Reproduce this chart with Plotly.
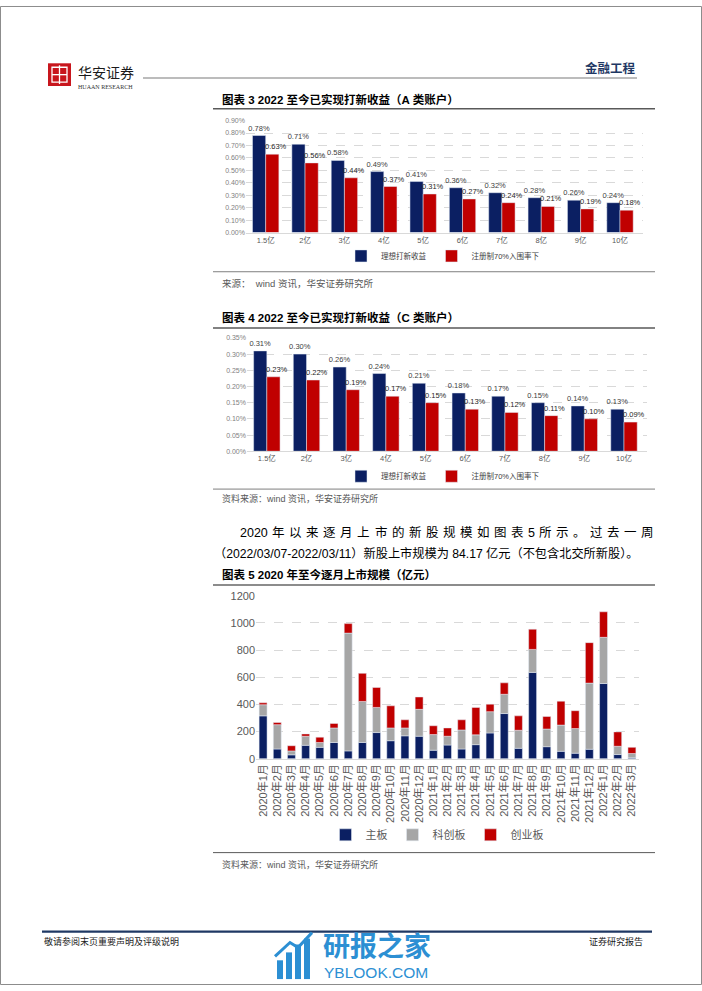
import plotly.graph_objects as go
import numpy as np

# ---------------- data ----------------
cats_ab = ["1.5亿", "2亿", "3亿", "4亿", "5亿", "6亿", "7亿", "8亿", "9亿", "10亿"]
a_ideal = [0.0078, 0.0071, 0.0058, 0.0049, 0.0041, 0.0036, 0.0032, 0.0028, 0.0026, 0.0024]
a_reg = [0.0063, 0.0056, 0.0044, 0.0037, 0.0031, 0.0027, 0.0024, 0.0021, 0.0019, 0.0018]
c_ideal = [0.0031, 0.0030, 0.0026, 0.0024, 0.0021, 0.0018, 0.0017, 0.0015, 0.0014, 0.0013]
c_reg = [0.0023, 0.0022, 0.0019, 0.0017, 0.0015, 0.0013, 0.0012, 0.0011, 0.0010, 0.0009]

months = ["2020年1月", "2020年2月", "2020年3月", "2020年4月", "2020年5月", "2020年6月",
          "2020年7月", "2020年8月", "2020年9月", "2020年10月", "2020年11月", "2020年12月",
          "2021年1月", "2021年2月", "2021年3月", "2021年4月", "2021年5月", "2021年6月",
          "2021年7月", "2021年8月", "2021年9月", "2021年10月", "2021年11月", "2021年12月",
          "2022年1月", "2022年2月", "2022年3月"]
main_board = [316, 72, 29, 99, 84, 120, 58, 120, 193, 133, 169, 166,
              63, 101, 72, 104, 190, 333, 77, 636, 89, 55, 41, 70, 554, 31, 7]
star_board = [82, 179, 29, 67, 36, 107, 867, 302, 185, 94, 58, 198,
              115, 65, 140, 72, 157, 142, 133, 169, 130, 193, 181, 487, 340, 61, 32]
gem_board = [14, 16, 38, 17, 39, 33, 70, 207, 147, 163, 60, 91,
             65, 61, 75, 202, 55, 84, 106, 149, 92, 176, 132, 298, 188, 106, 45]

# ---------------- styling ----------------
W, H = 702, 991
NAVY = "#0B1F62"
RED = "#C00000"
GREY = "#A6A6A6"
CJK = "Liberation Sans, Noto Sans CJK SC"


def px(x):
    return x / W


def py(y):
    return 1 - y / H


fig = go.Figure()

label_font = dict(size=7.5, color="#404040", family=CJK)

# Chart 3 (A accounts)
fig.add_trace(go.Bar(x=cats_ab, y=a_ideal, name="理想打新收益", marker_color=NAVY,
                     width=0.335, offset=-0.335, xaxis="x", yaxis="y",
                     texttemplate="%{y:.2%}", textposition="outside", constraintext="none",
                     textfont=label_font, cliponaxis=False, legend="legend"))
fig.add_trace(go.Bar(x=cats_ab, y=a_reg, name="注册制70%入围率下", marker_color=RED,
                     width=0.335, offset=0, xaxis="x", yaxis="y", cliponaxis=False,
                     legend="legend"))
# Chart 4 (C accounts)
fig.add_trace(go.Bar(x=cats_ab, y=c_ideal, name="理想打新收益", marker_color=NAVY,
                     width=0.333, offset=-0.333, xaxis="x2", yaxis="y2",
                     texttemplate="%{y:.2%}", textposition="outside", constraintext="none",
                     textfont=label_font, cliponaxis=False, legend="legend2"))
fig.add_trace(go.Bar(x=cats_ab, y=c_reg, name="注册制70%入围率下", marker_color=RED,
                     width=0.333, offset=0, xaxis="x2", yaxis="y2", cliponaxis=False,
                     legend="legend2"))
# Chart 5 (stacked monthly IPO size)
mb = np.array(main_board)
sb = np.array(star_board)
gb = np.array(gem_board)
fig.add_trace(go.Bar(x=months, y=mb, base=0, name="主板", marker_color=NAVY, width=0.56,
                     xaxis="x3", yaxis="y3", legend="legend3"))
fig.add_trace(go.Bar(x=months, y=sb, base=mb, name="科创板", marker_color=GREY, width=0.56,
                     xaxis="x3", yaxis="y3", legend="legend3"))
fig.add_trace(go.Bar(x=months, y=gb, base=mb + sb, name="创业板", marker_color=RED, width=0.56,
                     xaxis="x3", yaxis="y3", legend="legend3"))

grid = dict(showgrid=True, gridcolor="#D9D9D9", griddash="dash", gridwidth=1, zeroline=False)
small_tick = dict(size=7, color="#7F7F7F", family=CJK)

layout = dict(
    width=W, height=H, margin=dict(l=0, r=0, t=0, b=0),
    paper_bgcolor="white", plot_bgcolor="white",
    barmode="overlay", showlegend=True,
    font=dict(family=CJK),
    xaxis=dict(domain=[px(246), px(643)], anchor="y", showgrid=False, showline=True,
               linecolor="#D9D9D9", ticks="", tickfont=dict(size=7.5, color="#595959", family=CJK)),
    yaxis=dict(domain=[py(229.3), py(116)], anchor="x", range=[0, 0.009], dtick=0.001,
               tickformat=".2%", tickfont=small_tick, **grid),
    xaxis2=dict(domain=[px(247), px(647)], anchor="y2", showgrid=False, showline=True,
                linecolor="#D9D9D9", ticks="", tickfont=dict(size=7.5, color="#595959", family=CJK)),
    yaxis2=dict(domain=[py(450.7), py(336)], anchor="x2", range=[0, 0.0035], dtick=0.0005,
                tickformat=".2%", tickfont=small_tick, **grid),
    xaxis3=dict(domain=[px(256), px(639)], anchor="y3", showgrid=False, showline=True,
                linecolor="#D9D9D9", ticks="", tickangle=-90,
                tickfont=dict(size=11, color="#595959", family=CJK)),
    yaxis3=dict(domain=[py(762), py(597)], anchor="x3", range=[0, 1200], dtick=200,
                tickfont=dict(size=11, color="#595959", family=CJK), **grid),
    legend=dict(orientation="h", x=px(443), y=py(253), xanchor="center", yanchor="middle",
                font=dict(size=7.5, color="#404040", family=CJK), itemwidth=30,
                bgcolor="rgba(0,0,0,0)"),
    legend2=dict(orientation="h", x=px(443), y=py(476), xanchor="center", yanchor="middle",
                 font=dict(size=7.5, color="#404040", family=CJK), itemwidth=30,
                 bgcolor="rgba(0,0,0,0)"),
    legend3=dict(orientation="h", x=px(437), y=py(839), xanchor="center", yanchor="middle",
                 font=dict(size=11, color="#595959", family=CJK), itemwidth=30,
                 bgcolor="rgba(0,0,0,0)"),
)
fig.update_layout(**layout)

shapes = []
annotations = []

# value labels for the red bars, nudged right so they sit above the red bar
for xa, ya, vals in [("x", "y", a_reg), ("x2", "y2", c_reg)]:
    for c, v in zip(cats_ab, vals):
        annotations.append(dict(x=c, y=v, xref=xa, yref=ya, text=f"{v:.2%}", showarrow=False,
                                xanchor="center", yanchor="bottom", xshift=10, yshift=1,
                                font=dict(size=7.5, color="#262626", family=CJK)))


def hline(x0, x1, y, color, width):
    shapes.append(dict(type="line", xref="paper", yref="paper", x0=px(x0), x1=px(x1),
                       y0=py(y), y1=py(y), line=dict(color=color, width=width)))


def text(x, y, s, size, color="#000000", anchor="left", bold=False, family=CJK):
    if bold:
        s = "<b>" + s + "</b>"
    annotations.append(dict(x=px(x), y=py(y), xref="paper", yref="paper", text=s,
                            showarrow=False, xanchor=anchor, yanchor="middle",
                            font=dict(size=size, color=color, family=family)))


# page border
shapes.append(dict(type="rect", xref="paper", yref="paper", x0=px(0.5), x1=px(701.5),
                   y0=py(990.5), y1=py(0.5), line=dict(color="#8C8C8C", width=1)))

# header
shapes.append(dict(type="rect", xref="paper", yref="paper", x0=px(48), x1=px(71),
                   y0=py(81), y1=py(58), fillcolor="#C8161D", line=dict(width=0)))
shapes.append(dict(type="rect", xref="paper", yref="paper", x0=px(52), x1=px(67),
                   y0=py(77), y1=py(62), line=dict(color="white", width=1.3)))
shapes.append(dict(type="line", xref="paper", yref="paper", x0=px(59.5), x1=px(59.5),
                   y0=py(79), y1=py(60), line=dict(color="white", width=1.3)))
hline(52, 67, 69.5, "white", 1.3)
text(76, 68, "华安证券", 14, "#1A1A1A")
text(76, 82, "HUAAN RESEARCH", 6, "#333333", family="Liberation Serif")
hline(143, 637, 73, "#A6A6A6", 1.5)
text(638, 63, "金融工程", 12.5, "#1F3864", anchor="right", bold=True)

# chart 3 title / source
text(220, 95, "图表 3 2022 至今已实现打新收益（A 类账户）", 11.5, "#000000", bold=True)
hline(213, 655, 104, "#595959", 1.5)
hline(213, 655, 269, "#7F7F7F", 1)
text(220, 281, "来源：  wind 资讯，华安证券研究所", 9.5, "#595959")

# chart 4 title / source
text(220, 315, "图表 4 2022 至今已实现打新收益（C 类账户）", 11.5, "#000000", bold=True)
hline(213, 655, 326, "#595959", 1.5)
hline(213, 655, 489, "#7F7F7F", 1)
text(220, 499, "资料来源：wind 资讯，华安证券研究所", 9, "#595959")

# paragraph (justified first line)
tokens = ["2020", "年", "以", "来", "逐", "月", "上", "市", "的", "新", "股", "规", "模",
          "如", "图", "表", "5", "所", "示", "。", "过", "去", "一", "周"]
fs = 12.5
widths = [len(t) * 0.556 * fs if t.isdigit() else fs for t in tokens]
x_start, x_end = 238, 652
gap = (x_end - x_start - sum(widths)) / (len(tokens) - 1)
xc = x_start
for t, w in zip(tokens, widths):
    text(xc, 533, t, fs, "#000000")
    xc += w + gap
text(212, 554, "（2022/03/07-2022/03/11）新股上市规模为 84.17 亿元（不包含北交所新股）。", 12.2, "#000000")

# chart 5 title / source
text(220, 575, "图表 5 2020 年至今逐月上市规模（亿元）", 11.5, "#000000", bold=True)
hline(213, 655, 586, "#8C8C8C", 2)
hline(213, 655, 857, "#595959", 1)
text(220, 869, "资料来源：wind 资讯，华安证券研究所", 9, "#595959")

# footer
hline(42, 652, 937, "#1F3864", 2.2)
text(42, 947, "敬请参阅末页重要声明及评级说明", 9, "#1A1A1A")
text(645, 947, "证券研究报告", 9, "#1A1A1A", anchor="right")

# watermark
WM = "#2C8FD3"
for x0, ytop in [(277, 966), (286, 958), (295, 950), (304, 944)]:
    shapes.append(dict(type="rect", xref="paper", yref="paper", x0=px(x0), x1=px(x0 + 6),
                       y0=py(985), y1=py(ytop), fillcolor=WM, line=dict(width=0)))
shapes.append(dict(type="path", xref="paper", yref="paper",
                   path=f"M {px(275)},{py(962)} L {px(290)},{py(948)} L {px(298)},{py(953)} L {px(312)},{py(938)}",
                   line=dict(color=WM, width=3)))
text(321, 953, "研报之家", 27, WM, bold=True)
text(322, 978, "YBLOOK.COM", 15.5, WM)

fig.update_layout(shapes=shapes, annotations=annotations)
fig.write_html("out.html", config={"displayModeBar": False},
               post_script="document.body.style.margin='0';document.body.style.padding='0';"
                           "document.body.style.overflow='hidden';")
